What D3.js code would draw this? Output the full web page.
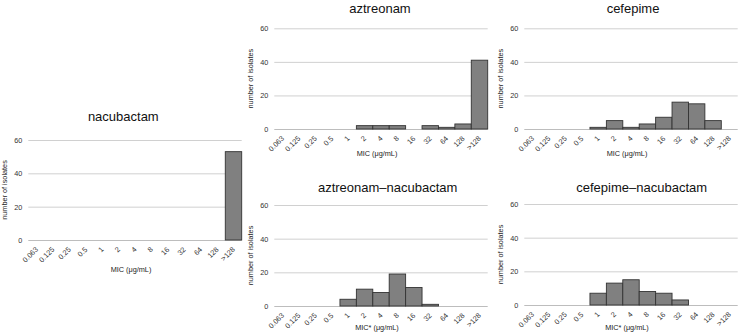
<!DOCTYPE html>
<html>
<head>
<meta charset="utf-8">
<script src="https://cdn.jsdelivr.net/npm/d3@7"></script>
<style>
  html, body { margin: 0; padding: 0; background: #fff; }
  svg { display: block; font-family: "Liberation Sans", Arial, Helvetica, sans-serif; }
</style>
</head>
<body>
<svg id="chart" width="738" height="333"></svg>
<script>
// ---- data ----
const categories = ["0.063","0.125","0.25","0.5","1","2","4","8","16","32","64","128",">128"];
const yTicks = [0, 20, 40, 60];
const nacubactam    = [0,0,0,0,0,0,0,0,0,0,0,0,53];
const aztreonam     = [0,0,0,0,0,2,2,2,0,2,1,3,41];
const cefepime      = [0,0,0,0,1,5,1,3,7,16,15,5,0];
const aztreonamNac  = [0,0,0,0,4,10,8,19,11,1,0,0,0];
const cefepimeNac   = [0,0,0,0,7,13,15,8,7,3,0,0,0];
const titles = ["nacubactam","aztreonam","cefepime","aztreonam\u2013nacubactam","cefepime\u2013nacubactam"];
const xTitles = ["MIC (\u03bcg/mL)","MIC (\u03bcg/mL)","MIC (\u03bcg/mL)","MIC* (\u03bcg/mL)","MIC* (\u03bcg/mL)"];
const yTitle = "number of isolates";

// ---- layout ----
const plotW = 213.4;
const panels = [
  {values: nacubactam,   left: 28.3,  top: 140,   zero: 240,   titleX: 123.3, titleY: 121,   xTitleY: 272},
  {values: aztreonam,    left: 274.3, top: 28.3,  zero: 129,   titleX: 380,   titleY: 13,    xTitleY: 156},
  {values: cefepime,     left: 524.3, top: 28.3,  zero: 129,   titleX: 633,   titleY: 13,    xTitleY: 156},
  {values: aztreonamNac, left: 274.3, top: 205,   zero: 306,   titleX: 387.7, titleY: 191.5, xTitleY: 330},
  {values: cefepimeNac,  left: 524.3, top: 204,   zero: 305,   titleX: 641.7, titleY: 191.5, xTitleY: 330}
];

const svg = d3.select("#chart");

panels.forEach((p, i) => {
  const g = svg.append("g");
  const x = d3.scaleBand().domain(categories).range([p.left, p.left + plotW]).padding(0);
  const y = d3.scaleLinear().domain([0, 60]).range([p.zero, p.top]);

  // gridlines + y labels via axis
  const yAxis = d3.axisLeft(y).tickValues(yTicks).tickSize(-plotW).tickPadding(6).tickFormat(d3.format("d"));
  const ya = g.append("g").attr("transform", `translate(${p.left},0)`).call(yAxis);
  ya.select(".domain").remove();
  ya.selectAll(".tick line").attr("stroke", d => d === 0 ? "#bdbdbd" : "#d0d0d0").attr("stroke-width", 1);
  ya.selectAll(".tick text").attr("fill", "#333").style("font-size", "7.3px")
    .style("font-family", "'Liberation Sans', Arial, sans-serif");

  // bars
  const data = categories.map((c, k) => ({c, v: p.values[k]})).filter(d => d.v > 0);
  g.append("g").selectAll("rect").data(data).join("rect")
    .attr("x", d => x(d.c))
    .attr("y", d => y(d.v))
    .attr("width", x.bandwidth())
    .attr("height", d => y(0) - y(d.v))
    .attr("fill", "#808080")
    .attr("stroke", "#333")
    .attr("stroke-width", 0.9);

  // x axis labels
  const xAxis = d3.axisBottom(x).tickSize(0).tickPadding(0);
  const xa = g.append("g").attr("transform", `translate(0,${p.zero})`).call(xAxis);
  xa.select(".domain").remove();
  xa.selectAll(".tick text")
    .attr("fill", "#333")
    .style("font-size", "7.3px")
    .style("font-family", "'Liberation Sans', Arial, sans-serif")
    .attr("text-anchor", "end")
    .attr("dy", null)
    .attr("y", 0)
    .attr("transform", "translate(2,10) rotate(-45)");

  // titles
  g.append("text").attr("x", p.titleX).attr("y", p.titleY)
    .attr("text-anchor", "middle").attr("fill", "#111").style("font-size", "13px")
    .text(titles[i]);
  g.append("text").attr("x", p.left + plotW / 2 - 4).attr("y", p.xTitleY)
    .attr("text-anchor", "middle").attr("fill", "#222").style("font-size", "7.3px")
    .text(xTitles[i]);
  g.append("text")
    .attr("transform", `translate(${p.left - 21.3},${(p.top + p.zero) / 2}) rotate(-90)`)
    .attr("text-anchor", "middle").attr("fill", "#222").style("font-size", "7.3px")
    .text(yTitle);
});
</script>
</body>
</html>
